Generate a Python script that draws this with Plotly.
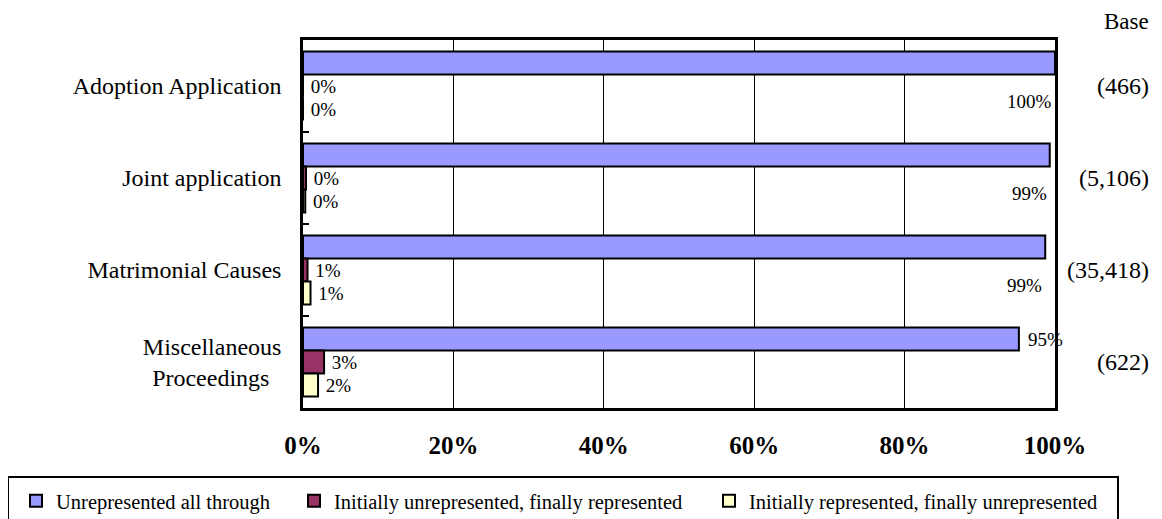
import plotly.graph_objects as go

# ---- data ----
categories = ["Adoption Application", "Joint application", "Matrimonial Causes", "Miscellaneous Proceedings"]
tick_labels = ["Adoption Application", "Joint application", "Matrimonial Causes",
               "Miscellaneous<br>Proceedings\u00a0\u00a0"]
series_names = ["Unrepresented all through",
                "Initially unrepresented, finally represented",
                "Initially represented, finally unrepresented"]
unrep_all = [100.0, 99.3, 98.7, 95.2]
unrep_then_rep = [0.0, 0.4, 0.6, 2.8]
rep_then_unrep = [0.0, 0.3, 1.0, 2.0]
base_labels = ["(466)", "(5,106)", "(35,418)", "(622)"]
x_ticks = [0, 20, 40, 60, 80, 100]
title_text = "Party Status in Terms of Representation by Type of Case"

colors = ["#9999FF", "#993366", "#FFFFCC"]
FONT = "Liberation Serif, Times New Roman, serif"

# the page adds an 8px body margin, so the figure is drawn 8px smaller
OFF = 8
W, H = 1162 - OFF, 519 - OFF
L, R, T, B = 303 - OFF, W - (1055 - OFF), 40 - OFF, H - (408 - OFF)
pw, ph = W - L - R, H - T - B

def px_x(px):  # page pixel -> paper x
    return (px - OFF - L) / pw

def px_y(py):  # page pixel -> paper y
    return (H - B - (py - OFF)) / ph

fig = go.Figure()
series = [unrep_all, unrep_then_rep, rep_then_unrep]
legend_ids = ["legend", "legend2", "legend3"]
for i, (name, vals, col) in enumerate(zip(series_names, series, colors)):
    kw = {}
    if i > 0:
        kw = dict(text=[f"\u00a0{v:.0f}%" for v in vals], textposition="outside",
                  textfont=dict(family=FONT, size=19, color="black"), cliponaxis=False)
    fig.add_trace(go.Bar(
        y=categories, x=vals, orientation="h", name=name, legend=legend_ids[i],
        marker=dict(color=col, line=dict(color="black", width=2)),
        hoverinfo="skip", **kw))

# labels for the first series
for cat, v in zip(categories, unrep_all):
    if v >= 98:
        fig.add_annotation(x=v, y=cat, xref="x", yref="y", text=f"{v:.0f}%",
                           xanchor="right", yanchor="middle", xshift=-1, yshift=-15,
                           showarrow=False, font=dict(family=FONT, size=19, color="black"))
    else:
        fig.add_annotation(x=v, y=cat, xref="x", yref="y", text=f"{v:.0f}%",
                           xanchor="left", yanchor="middle", xshift=7, yshift=23,
                           showarrow=False, font=dict(family=FONT, size=19, color="black"))

# base counts
for cat, b in zip(categories, base_labels):
    fig.add_annotation(x=px_x(1151), y=cat, xref="paper", yref="y", text=b,
                       xanchor="right", yanchor="middle", showarrow=False,
                       font=dict(family=FONT, size=24, color="black"))
fig.add_annotation(x=px_x(1151), y=px_y(22), xref="paper", yref="paper", text="Base",
                   xanchor="right", yanchor="middle", showarrow=False,
                   font=dict(family=FONT, size=23, color="black"))

# title (mostly outside the visible page, as in the reference)
fig.add_annotation(x=px_x(262), y=px_y(5), xref="paper", yref="paper", text=f"<b>{title_text}</b>",
                   xanchor="left", yanchor="bottom", showarrow=False,
                   font=dict(family=FONT, size=19, color="black"))

# legend frame
fig.add_shape(type="rect", xref="paper", yref="paper",
              x0=px_x(8), x1=px_x(1118), y0=px_y(477), y1=px_y(540),
              line=dict(color="black", width=2), fillcolor="rgba(0,0,0,0)")

leg_common = dict(orientation="h", xref="container", yref="container",
                  y=1 - (501 - OFF) / H, xanchor="left", yanchor="middle",
                  font=dict(family=FONT, size=20.5, color="black"),
                  bgcolor="rgba(0,0,0,0)", itemwidth=30)
leg_left_px = [16, 294, 709]

fig.update_layout(
    width=W, height=H,
    margin=dict(l=L, r=R, t=T, b=B, autoexpand=False),
    paper_bgcolor="white", plot_bgcolor="white",
    barmode="group", bargap=0.25, bargroupgap=0,
    font=dict(family=FONT, color="black"),
    showlegend=True,
    legend=dict(x=(leg_left_px[0] - OFF) / W, **leg_common),
    legend2=dict(x=(leg_left_px[1] - OFF) / W, **leg_common),
    legend3=dict(x=(leg_left_px[2] - OFF) / W, **leg_common),
    xaxis=dict(range=[0, 100], tickvals=x_ticks, ticktext=[f"{t}%" for t in x_ticks],
               showgrid=True, gridcolor="black", gridwidth=1,
               showline=True, linecolor="black", linewidth=2.5, mirror=True,
               ticks="", tickfont=dict(family=FONT, size=25, color="black", weight="bold"),
               ticklabelstandoff=13, zeroline=False, fixedrange=True, automargin=False),
    yaxis=dict(categoryorder="array", categoryarray=categories, autorange="reversed",
               tickvals=categories, ticktext=tick_labels,
               showline=True, linecolor="black", linewidth=2.5, mirror=True,
               ticks="inside", ticklen=6, tickcolor="black", tickwidth=2, tickson="boundaries",
               tickfont=dict(family=FONT, size=24, color="black"),
               ticklabelstandoff=14, showgrid=False, fixedrange=True, automargin=False),
)

fig.write_html("out.html", config={"displayModeBar": False})
